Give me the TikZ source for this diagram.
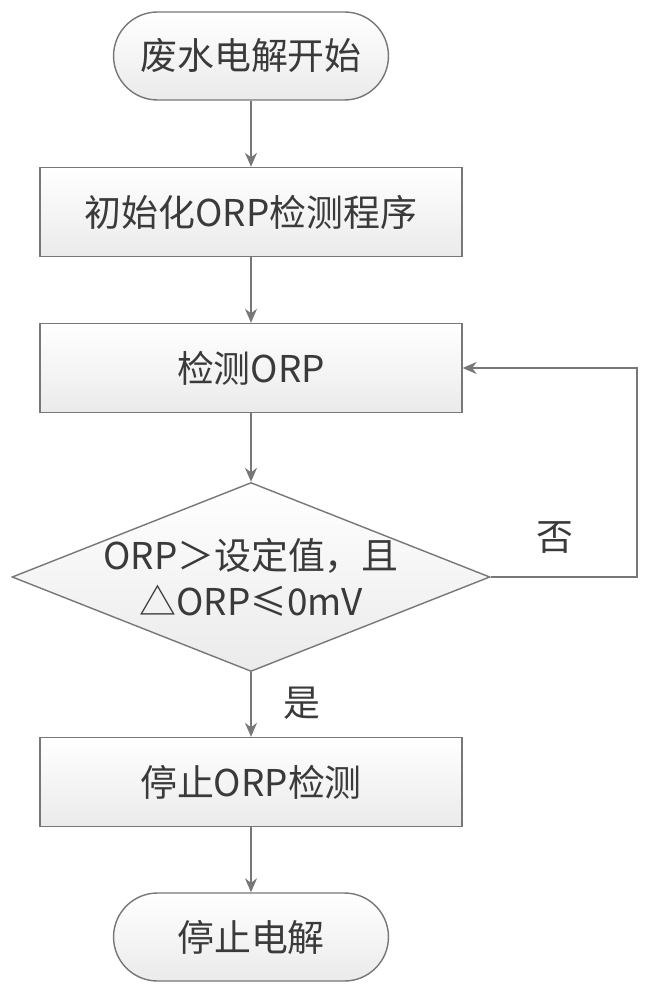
\documentclass[tikz,border=0pt]{standalone}
\usepackage{fontspec}
\newfontfamily\cjk{Noto Sans CJK SC}
\usetikzlibrary{arrows.meta,shapes.geometric}
\definecolor{linegray}{HTML}{777777}
\definecolor{textgray}{HTML}{3A3A3A}

\begin{document}
\begin{tikzpicture}[x=0.02cm,y=-0.02cm,
  every node/.style={text=textgray,font=\cjk\fontsize{21}{26}\selectfont},
  box/.style={draw=linegray,line width=0.8pt,top color=white,bottom color=gray!16,
    minimum width=8.44cm,minimum height=1.78cm,inner sep=0pt},
  terminal/.style={box,rounded corners=0.88cm,minimum width=5.5cm,minimum height=1.76cm},
  decision/.style={box,diamond,aspect=2.53,minimum width=9.56cm,minimum height=3.78cm,
    inner sep=-0.2cm,align=center},
  arrow/.style={draw=linegray,line width=0.8pt,-{Stealth[length=0.28cm,width=0.24cm]}}]
  \useasboundingbox (0,0) rectangle (650,1000);
  \node[terminal] (start) at (251,56) {废水电解开始};
  \node[box] (init) at (251,212) {初始化ORP检测程序};
  \node[box] (detect) at (251,368) {检测ORP};
  \node[decision] (judge) at (251,577) {ORP＞设定值，且\\△ORP≤0mV};
  \node[box] (stopdetect) at (251,782) {停止ORP检测};
  \node[terminal] (finish) at (251,937) {停止电解};
  \coordinate (loop) at (637,577);
  \draw[arrow] (start) -- (init);
  \draw[arrow] (init) -- (detect);
  \draw[arrow] (detect) -- (judge);
  \draw[arrow] (judge) -- (stopdetect);
  \draw[arrow] (stopdetect) -- (finish);
  \draw[arrow] (judge.east) -- (loop) |- (detect.east);
  \node (no) at (555,538) {否};
  \node (yes) at (302,703) {是};
\end{tikzpicture}
\end{document}
